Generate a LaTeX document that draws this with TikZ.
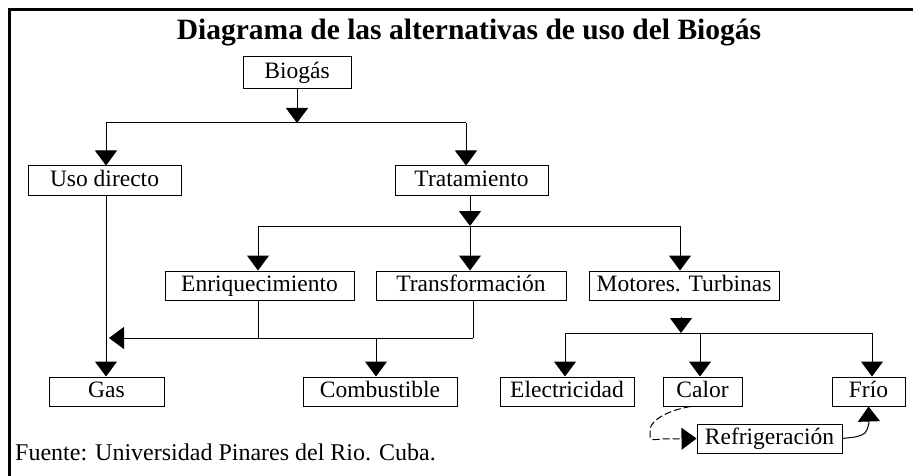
\documentclass[tikz,border=0pt]{standalone}
\usepackage{fontspec}
\setmainfont{Liberation Serif}
\usetikzlibrary{arrows.meta,calc}
\begin{document}
\begin{tikzpicture}[x=1pt,y=-1pt,
  box/.style={draw,line width=1pt,inner sep=0pt,minimum height=29pt,
    text height=16pt,text depth=5pt,font=\fontsize{23.5}{26}\selectfont},
  con/.style={line width=1pt},
  arr/.style={line width=1pt,-{Triangle[width=22pt,length=15pt]}},
]
\useasboundingbox (0,0) rectangle (913,476);
% frame
\coordinate (bTR) at (913,10);
\coordinate (bTL) at (9,10);
\coordinate (bBL) at (9,477);
\draw[line width=3pt] (bTR) -- (bTL) -- (bBL);

\node[anchor=base,inner sep=0pt,font=\bfseries\fontsize{29.5}{32}\selectfont] (title) at (469,40)
  {Diagrama de las alternativas de uso del Biogás};

% boxes
\node[box,minimum width=108pt,minimum height=32pt] (bio) at (297,73) {Biogás};
\node[box,minimum width=153pt] (uso)  at (104.5,180.5) {Uso directo};
\node[box,minimum width=153pt] (trat) at (471.5,180.5) {Tratamiento};
\node[box,minimum width=189pt] (enr)  at (259.5,285.5) {Enriquecimiento};
\node[box,minimum width=190pt] (trf)  at (471,285.5) {Transformación};
\node[box,minimum width=190pt] (mot)  at (684,285.5) {Motores. Turbinas};
\node[box,minimum width=115pt] (gas)  at (106.5,391.5) {Gas};
\node[box,minimum width=154pt] (comb) at (380,391.5) {Combustible};
\node[box,minimum width=134pt] (elec) at (567,391.5) {Electricidad};
\node[box,minimum width=79pt]  (cal)  at (702.5,391.5) {Calor};
\node[box,minimum width=73pt]  (frio) at (868.5,391.5) {Frío};
\node[box,minimum width=145pt] (refr) at (769.5,438.5) {Refrigeración};

\node[anchor=base west,inner sep=0pt,font=\fontsize{24}{26}\selectfont] (src) at (15,460)
  {Fuente: Universidad Pinares del Rio. Cuba.};

% level 1
\coordinate (h1l) at (106,123);
\coordinate (h1m) at (297,123);
\coordinate (h1r) at (466,123);
\draw[arr] (bio) -- (h1m);
\draw[con] (h1l) -- (h1r);
\draw[arr] (h1l) -- (h1l |- uso.north);
\draw[arr] (h1r) -- (h1r |- trat.north);

% level 2
\coordinate (h2l) at (258,226);
\coordinate (h2m) at (470,226);
\coordinate (h2r) at (680,226);
\draw[arr] (h2m |- trat.south) -- (h2m);
\draw[con] (h2l) -- (h2r);
\draw[arr] (h2l) -- (h2l |- enr.north);
\draw[arr] (h2m) -- (h2m |- trf.north);
\draw[arr] (h2r) -- (h2r |- mot.north);

% level 3 left
\coordinate (h3e) at (258,338);
\coordinate (h3t) at (473,338);
\coordinate (h3c) at (376,338);
\coordinate (h3g) at (109,338);
\draw[con] (h3e |- enr.south) -- (h3e);
\draw[con] (h3t |- trf.south) -- (h3t);
\draw[arr] (h3t) -- (h3g);
\draw[arr] (h3c) -- (h3c |- comb.north);
\draw[arr] (h1l |- uso.south) -- (h1l |- gas.north);

% level 3 right
\coordinate (m0) at (681,317);
\coordinate (m1) at (681,333);
\coordinate (h4l) at (565,333);
\coordinate (h4c) at (700,333);
\coordinate (h4r) at (872,333);
\draw[arr] (m0) -- (m1);
\draw[con] (h4l) -- (h4r);
\draw[arr] (h4l) -- (h4l |- elec.north);
\draw[arr] (h4c) -- (h4c |- cal.north);
\draw[arr] (h4r) -- (h4r |- frio.north);

% calor -> refrigeracion (dashed)
\draw[arr,dash pattern=on 7pt off 3pt] ($(cal.south)+(-12,0)$) .. controls (660,412) and (649,424) .. (650,431)
  -- (650,437) .. controls (652,440) .. (662,439) -- (refr.west);
% refrigeracion -> frio
\draw[arr] (refr.east) -- (855,437) .. controls (866,434) .. (869,423) -- (frio.south);
\end{tikzpicture}
\end{document}
